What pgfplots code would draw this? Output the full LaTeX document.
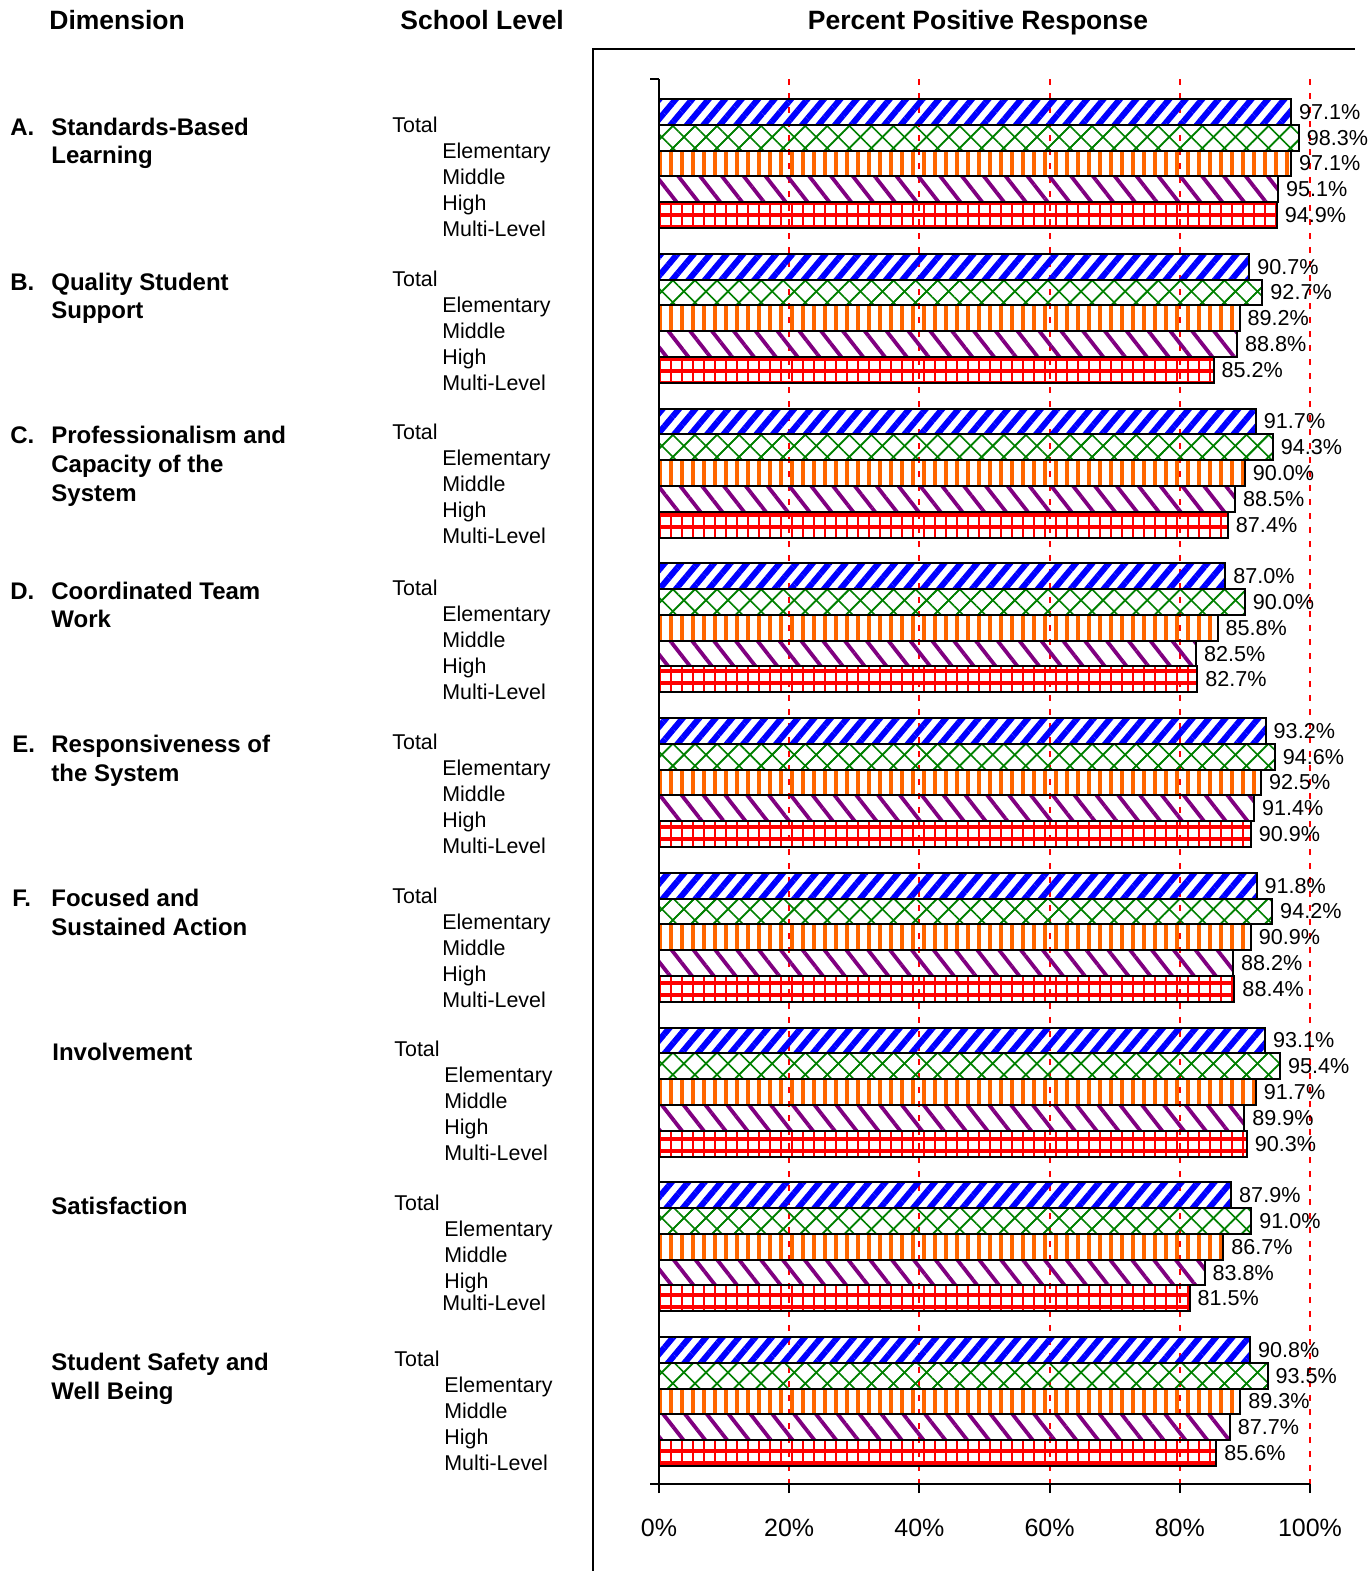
\documentclass[border=0pt]{standalone}
\usepackage{fontspec}
\setmainfont{Liberation Sans}
\usepackage{pgfplots}
\usepackage{pgfplotstable}
\pgfplotsset{compat=1.18}
\usetikzlibrary{patterns.meta}

\definecolor{barblue}{RGB}{0,0,255}
\definecolor{bargreen}{RGB}{0,128,0}
\definecolor{barorange}{RGB}{255,102,0}
\definecolor{barpurple}{RGB}{128,0,128}
\definecolor{barred}{RGB}{255,0,0}

% group index (0 = top), then Total, Elementary, Middle, High, Multi-Level
\pgfplotstableread{
g tot ele mid high multi
0 97.1 98.3 97.1 95.1 94.9
1 90.7 92.7 89.2 88.8 85.2
2 91.7 94.3 90.0 88.5 87.4
3 87.0 90.0 85.8 82.5 82.7
4 93.2 94.6 92.5 91.4 90.9
5 91.8 94.2 90.9 88.2 88.4
6 93.1 95.4 91.7 89.9 90.3
7 87.9 91.0 86.7 83.8 81.5
8 90.8 93.5 89.3 87.7 85.6
}\survey

\newcommand{\lab}{\fontsize{10.7}{12}\selectfont}
\newcommand{\val}{\fontsize{10.8}{12}\selectfont}
\newcommand{\hdr}{\fontsize{13.25}{15}\selectfont\bfseries}
\newcommand{\dimlab}{\fontsize{12}{14}\selectfont\bfseries}

\begin{document}
\begin{tikzpicture}
\useasboundingbox (0pt,0pt) rectangle (684pt,-785.5pt);

\begin{axis}[
  at={(329.5pt,-742pt)}, anchor=south west,
  scale only axis, width=325.5pt, height=702.5pt,
  xbar, bar width=0.1667,
  xmin=0, xmax=100, ymin=-0.546, ymax=8.533,
  y dir=reverse,
  axis lines*=left,
  axis line style={black, line width=1pt},
  tick style={black, line width=1pt},
  tick align=outside, major tick length=4.5pt,
  xtick={0,20,40,60,80,100},
  xticklabels={0\%,20\%,40\%,60\%,80\%,100\%},
  xticklabel style={font=\fontsize{12.5}{14}\selectfont, inner sep=0pt, anchor=north},
  xticklabel shift=13pt,
  ytick={-0.546,8.533}, yticklabels={},
  xmajorgrids,
  major grid style={barred, line width=1pt, dash pattern=on 3pt off 4pt},
  /pgf/number format/assume math mode=true,
  nodes near coords={\pgfmathprintnumber[fixed,fixed zerofill,precision=1]{\pgfplotspointmeta}\%},
  every node near coord/.append style={font=\val, black, inner sep=3.5pt},
  every axis plot/.append style={draw=black, line width=1pt},
  clip=false,
]
\addplot[bar shift=-0.3334, pattern={Lines[angle=50,distance=6.3pt,line width=3pt]}, pattern color=barblue]
  table[x=tot, y=g] {\survey};
\addplot[bar shift=-0.1667, pattern={Lines[angle=45,distance=7.8pt,line width=0.8pt]}, pattern color=bargreen,
  postaction={pattern={Lines[angle=-45,distance=7.8pt,line width=0.8pt]}},
  postaction={draw=black, line width=1pt}]
  table[x=ele, y=g] {\survey};
\addplot[bar shift=0, pattern={Lines[angle=90,distance=5.5pt,line width=2.4pt]}, pattern color=barorange]
  table[x=mid, y=g] {\survey};
\addplot[bar shift=0.1667, pattern={Lines[angle=-52,distance=8.6pt,line width=1.9pt]}, pattern color=barpurple]
  table[x=high, y=g] {\survey};
\addplot[bar shift=0.3334, pattern={Lines[angle=90,distance=5.5pt,line width=1.4pt]}, pattern color=barred,
  postaction={pattern={Lines[angle=0,distance=6pt,line width=1.6pt]}},
  postaction={draw=black, line width=1pt}]
  table[x=multi, y=g] {\survey};
\end{axis}

\begin{scope}[x=0.5pt, y=-0.5pt, every node/.style={inner sep=0pt, anchor=base west}]
  % frame round the chart
  \draw[line width=0.75pt] (593,1571) -- (593,49) -- (1355,49);

  % headers
  \node at (49,29) {\hdr Dimension};
  \node at (400,29) {\hdr School Level};
  \node[anchor=base] at (978,29) {\hdr Percent Positive Response};

  % dimensions
  \foreach \l/\y in {A./135, B./290, C./443, D./599} \node at (10,\y) {\dimlab \l};
  \foreach \l/\y in {E./752, F./906} \node at (12,\y) {\dimlab \l};
  \node at (51,135) {\dimlab Standards-Based};
  \node at (51,163) {\dimlab Learning};
  \node at (51,290) {\dimlab Quality Student};
  \node at (51,318) {\dimlab Support};
  \node at (51,443) {\dimlab Professionalism and};
  \node at (51,472) {\dimlab Capacity of the};
  \node at (51,501) {\dimlab System};
  \node at (51,599) {\dimlab Coordinated Team};
  \node at (51,627) {\dimlab Work};
  \node at (51,752) {\dimlab Responsiveness of};
  \node at (51,781) {\dimlab the System};
  \node at (51,906) {\dimlab Focused and};
  \node at (51,935) {\dimlab Sustained Action};
  \node at (52,1060) {\dimlab Involvement};
  \node at (51,1214) {\dimlab Satisfaction};
  \node at (51,1370) {\dimlab Student Safety and};
  \node at (51,1399) {\dimlab Well Being};

  % school levels
  \foreach \t/\xa/\xb in {132/392/442, 286/392/442, 439/392/442, 595/392/442, 749/392/442, 903/392/442, 1056/394/444, 1366/394/444} {
    \node at (\xa,\t) {\lab Total};
    \node at (\xb,\t+26) {\lab Elementary};
    \node at (\xb,\t+52) {\lab Middle};
    \node at (\xb,\t+78) {\lab High};
    \node at (\xb,\t+104) {\lab Multi-Level};
  }
  \node at (394,1210) {\lab Total};
  \node at (444,1236) {\lab Elementary};
  \node at (444,1262) {\lab Middle};
  \node at (444,1288) {\lab High};
  \node at (442,1310) {\lab Multi-Level};
\end{scope}
\end{tikzpicture}
\end{document}
